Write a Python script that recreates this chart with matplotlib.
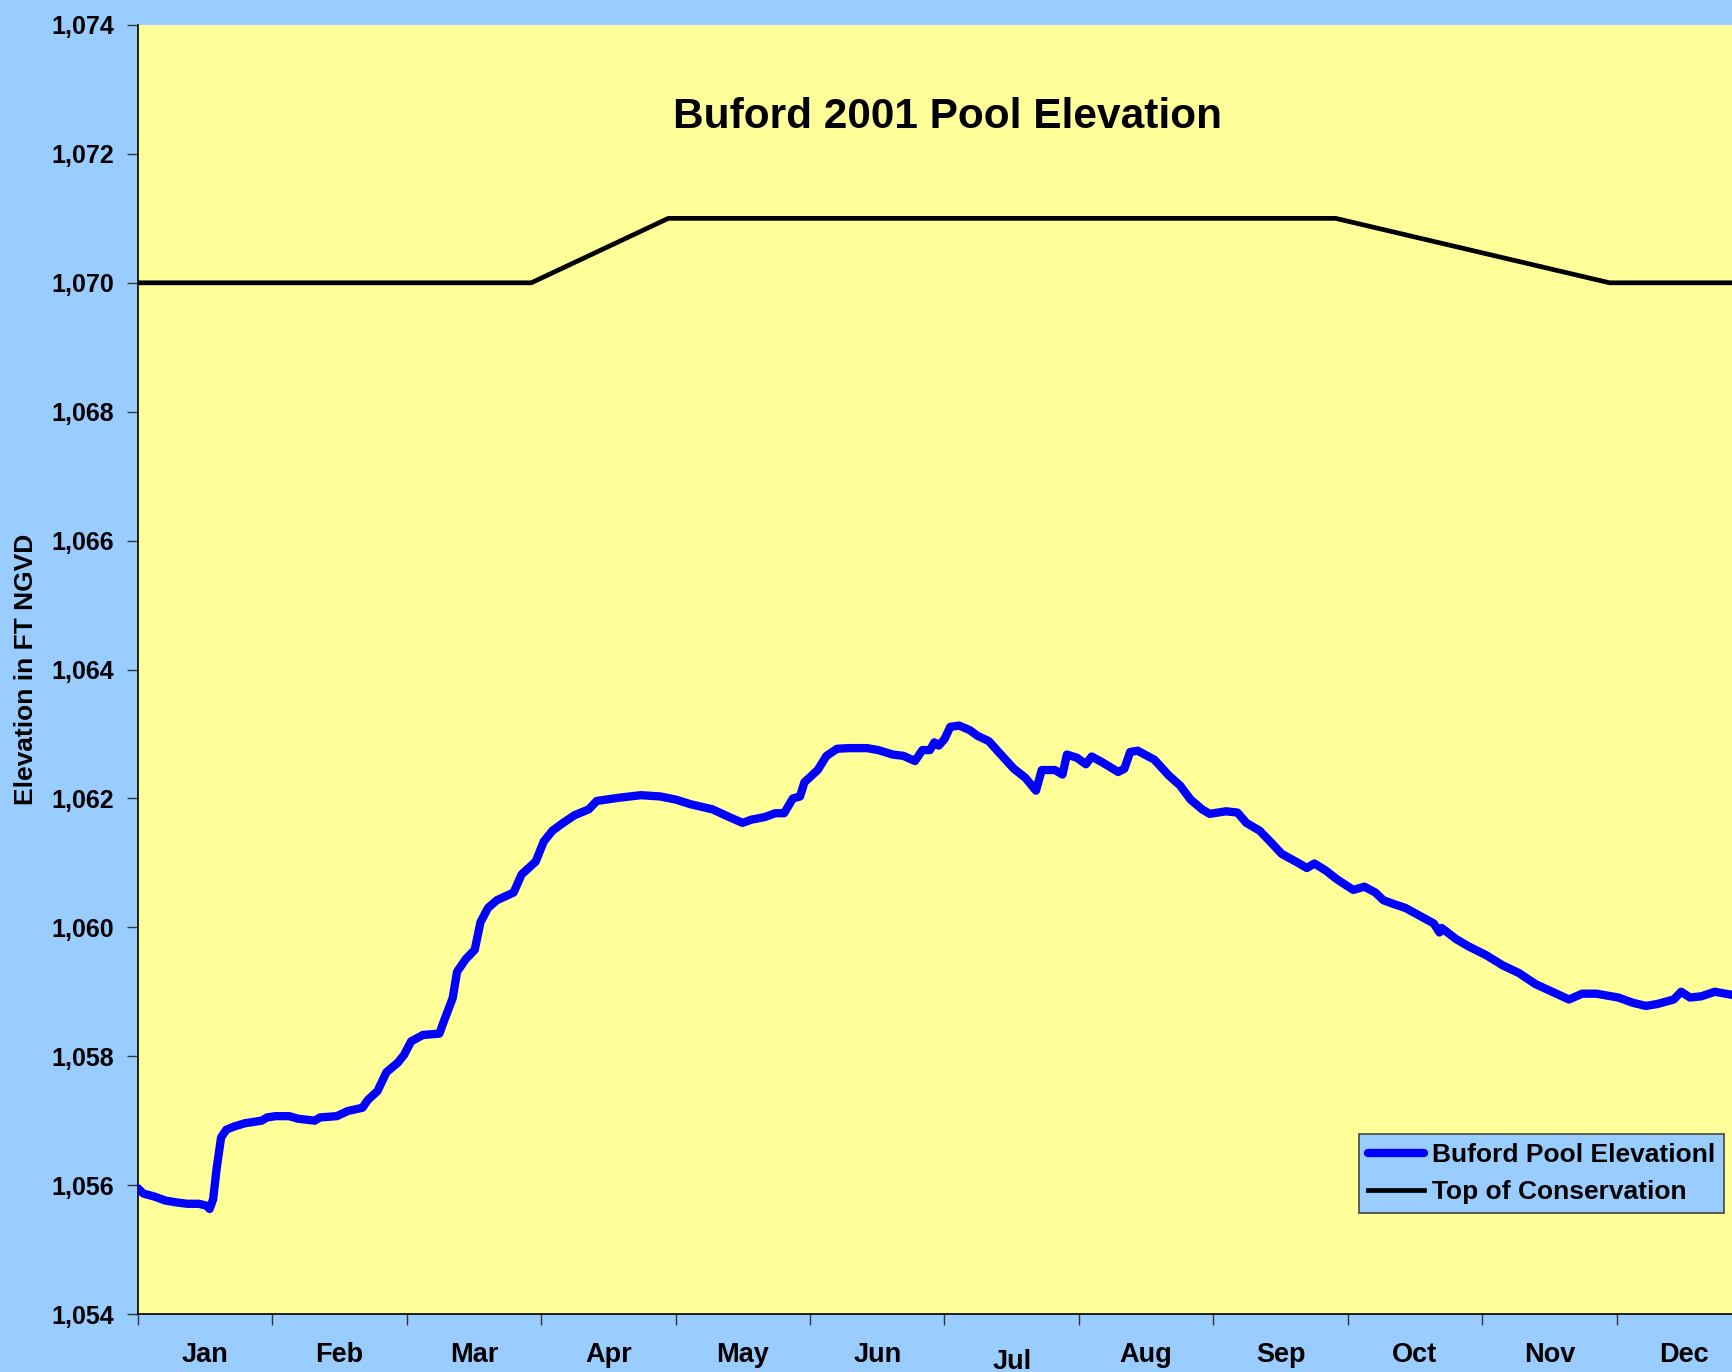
import matplotlib
matplotlib.use("Agg")
import matplotlib.pyplot as plt
from matplotlib.ticker import FixedLocator, NullFormatter, FixedFormatter

plt.rcParams['font.family'] = ['Liberation Sans', 'DejaVu Sans']

months = ["Jan", "Feb", "Mar", "Apr", "May", "Jun", "Jul", "Aug", "Sep", "Oct", "Nov", "Dec"]
y_ticks = [1054, 1056, 1058, 1060, 1062, 1064, 1066, 1068, 1070, 1072, 1074]

# Buford pool elevation (day of year, feet NGVD)
pool_days = [0, 1.2, 3.8, 6.2, 8.8, 11.2, 13.8, 15.5, 16.2, 17, 17.8, 18.8, 20, 21.8, 24.2,
             28, 29.2, 31.2, 34.2, 36.2, 40, 41.2, 45, 47.5, 50.8, 52, 54.2, 56.2, 58.8,
             60.2, 61.8, 64.5, 68.2, 69.2, 71.2, 72.2, 74.2, 76.2, 77.5, 79.2, 81.2, 85,
             86.8, 90, 91.8, 93.8, 96.2, 98.8, 102, 103.8, 108.8, 113.8, 118.2, 121.8, 125,
             130, 133.8, 136.8, 138.8, 141.8, 144.2, 146.2, 148.2, 149.8, 150.8, 153.8,
             155.8, 158.2, 160.8, 165, 167.5, 170.8, 173.2, 175.8, 177.5, 179.2, 180.2,
             181.2, 182.5, 183.8, 185.8, 188.2, 190, 192.5, 195, 198.2, 200.8, 203.2, 204.5,
             207.5, 209.2, 210.2, 212.5, 214.5, 215.8, 218.2, 221.8, 223.2, 224.5, 226.2,
             230, 233.2, 235.8, 238.2, 240.8, 242.5, 246.2, 248.8, 250.8, 253.8, 256.2,
             258.8, 262.5, 264.5, 266.2, 268.8, 271.2, 275, 277.5, 280, 281.8, 284.2, 286.8,
             290, 293.2, 294.5, 295, 298.2, 301.2, 305, 308.8, 312.5, 316.2, 320, 323.8,
             326.8, 330, 335, 338.2, 341.2, 343.8, 347.5, 349.2, 351.2, 353.8, 356.8, 360.8,
             365]
pool_elev = [1055.95, 1055.87, 1055.82, 1055.76, 1055.73, 1055.71, 1055.71, 1055.68, 1055.63,
             1055.78, 1056.26, 1056.74, 1056.86, 1056.91, 1056.96, 1057.00, 1057.05, 1057.07,
             1057.07, 1057.03, 1057.00, 1057.05, 1057.07, 1057.15, 1057.20, 1057.32, 1057.46,
             1057.75, 1057.90, 1058.02, 1058.23, 1058.33, 1058.35, 1058.54, 1058.90, 1059.31,
             1059.51, 1059.65, 1060.08, 1060.30, 1060.42, 1060.54, 1060.82, 1061.02, 1061.33,
             1061.50, 1061.62, 1061.74, 1061.83, 1061.96, 1062.01, 1062.05, 1062.03, 1061.98,
             1061.91, 1061.83, 1061.71, 1061.62, 1061.67, 1061.71, 1061.77, 1061.77, 1062.00,
             1062.03, 1062.25, 1062.44, 1062.66, 1062.77, 1062.78, 1062.78, 1062.75, 1062.68,
             1062.66, 1062.58, 1062.75, 1062.75, 1062.87, 1062.82, 1062.92, 1063.11, 1063.13,
             1063.06, 1062.97, 1062.89, 1062.70, 1062.46, 1062.32, 1062.12, 1062.44, 1062.44,
             1062.37, 1062.68, 1062.63, 1062.53, 1062.65, 1062.56, 1062.41, 1062.46, 1062.72,
             1062.74, 1062.60, 1062.36, 1062.20, 1061.98, 1061.83, 1061.76, 1061.80, 1061.78,
             1061.62, 1061.50, 1061.33, 1061.14, 1061.00, 1060.92, 1060.99, 1060.88, 1060.75,
             1060.58, 1060.63, 1060.54, 1060.42, 1060.36, 1060.30, 1060.18, 1060.06, 1059.92,
             1059.99, 1059.82, 1059.70, 1059.57, 1059.41, 1059.29, 1059.12, 1059.00, 1058.88,
             1058.97, 1058.97, 1058.91, 1058.83, 1058.78, 1058.81, 1058.88, 1059.00, 1058.91,
             1058.93, 1059.00, 1058.95, 1058.93]

# Top of conservation guide curve
guide_days = [0, 89, 120, 271, 333, 365]
guide_elev = [1070, 1070, 1071, 1071, 1070, 1070]

BG = "#99CCFF"
PLOT = "#FFFF99"

fig = plt.figure(figsize=(17.33, 13.72), dpi=100, facecolor=BG)
ax = fig.add_axes([138 / 1733, 58 / 1372, 1613 / 1733, 1289 / 1372])
ax.set_facecolor(PLOT)

ax.plot(pool_days, pool_elev, color="#0000FF", lw=6, solid_joinstyle="round",
        solid_capstyle="round", label="Buford Pool Elevationl", zorder=3)
ax.plot(guide_days, guide_elev, color="black", lw=3.4, label="Top of Conservation", zorder=2)

ax.set_xlim(0, 365)
ax.set_ylim(1054, 1074)

month_len = 365 / 12
ax.xaxis.set_major_locator(FixedLocator([i * month_len for i in range(13)]))
ax.xaxis.set_major_formatter(NullFormatter())
ax.xaxis.set_minor_locator(FixedLocator([(i + 0.5) * month_len for i in range(12)]))
ax.xaxis.set_minor_formatter(FixedFormatter(months))
ax.tick_params(axis="x", which="major", direction="out", length=8, width=1, color="#333333")
ax.tick_params(axis="x", which="minor", length=0, pad=20, labelsize=19.5)

ax.set_yticks(y_ticks)
ax.set_yticklabels([f"{v:,}" for v in y_ticks])
ax.tick_params(axis="y", direction="out", length=8, width=1, color="#333333", pad=9, labelsize=18)

for lab in ax.get_xticklabels(minor=True) + ax.get_yticklabels():
    lab.set_fontweight("bold")

# Jul label sits a little lower in the original
ax.xaxis.get_minor_ticks()[6].set_pad(25)

for s in ["top", "right"]:
    ax.spines[s].set_visible(False)
for s in ["left", "bottom"]:
    ax.spines[s].set_linewidth(1.2)
    ax.spines[s].set_color("black")

ax.set_ylabel("Elevation in FT NGVD", fontsize=19, fontweight="bold", labelpad=10)

ax.text(0.502, 0.929, "Buford 2001 Pool Elevation", transform=ax.transAxes,
        ha="center", va="center", fontsize=30.5, fontweight="bold")

leg = ax.legend(loc="lower left", bbox_to_anchor=(0.757, 0.078), frameon=True,
                fancybox=False, facecolor=BG, edgecolor="#444444", framealpha=1,
                prop={"size": 19, "weight": "bold"}, handlelength=2.1,
                handletextpad=0.3, borderpad=0.35, labelspacing=0.5, borderaxespad=0)
leg.get_frame().set_linewidth(1.2)

fig.savefig("out.png", dpi=100, facecolor=BG)
